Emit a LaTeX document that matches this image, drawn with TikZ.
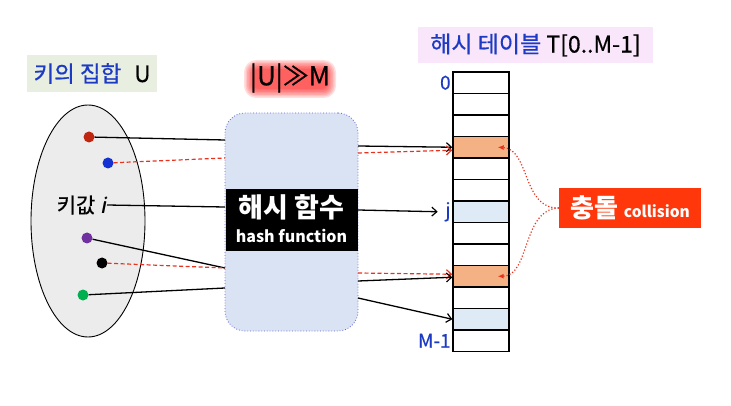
\documentclass[tikz,border=0pt]{standalone}
\usepackage{fontspec}
\setmainfont{Noto Sans CJK KR}
\newfontfamily\medfont{Noto Sans CJK KR}[FakeBold=0.6]
\newfontfamily\slfont{Noto Sans CJK KR}[FakeSlant=0.2,FakeBold=0.6]
\usetikzlibrary{arrows.meta,calc,shapes.geometric}
\definecolor{kblue}{RGB}{28,58,195}
\definecolor{keybg}{RGB}{232,238,224}
\definecolor{titlebg}{RGB}{249,230,250}
\definecolor{ellgray}{RGB}{236,236,236}
\definecolor{hashfill}{RGB}{218,227,243}
\definecolor{hashborder}{RGB}{100,100,210}
\definecolor{orangecell}{RGB}{244,177,131}
\definecolor{bluecell}{RGB}{222,234,246}
\definecolor{collred}{RGB}{255,55,10}
\definecolor{dashred}{RGB}{232,50,30}
\definecolor{dotred}{RGB}{192,38,15}
\definecolor{dotblue}{RGB}{20,50,210}
\definecolor{dotpurple}{RGB}{112,48,160}
\definecolor{dotgreen}{RGB}{0,176,80}
\tikzset{
  keydot/.style={circle,inner sep=0pt,minimum size=11pt},
  cellbox/.style={draw=black,line width=1.4pt,minimum width=56pt,minimum height=21.5pt,inner sep=0pt},
  idx/.style={text=kblue,font=\medfont\fontsize{19}{21}\selectfont,anchor=east,inner sep=1.5pt},
  conn/.style={draw=black,line width=1.3pt},
  redconn/.style={draw=dashred,line width=1.2pt,dash pattern=on 4pt off 2.5pt},
  tip/.style={-{Straight Barb[length=5pt,width=9pt,line width=1.2pt]}},
  redtip/.style={-{Straight Barb[length=5pt,width=9pt,line width=1.2pt,color=dashred]}},
  curvy/.style={draw=dashred,line width=1.2pt,dotted,-{Latex[length=6pt,width=5pt]}},
  glowbox/.style={fill=red,fill opacity=0.13,draw=none}
}
\begin{document}
\begin{tikzpicture}[x=1pt,y=-1pt]
\useasboundingbox (0,0) rectangle (731,406);

% key set label
\node[fill=keybg,text=kblue,font=\medfont\fontsize{22.5}{26}\selectfont,minimum width=130pt,minimum height=37pt,inner sep=0pt] (uset) at (92,73.5) {키의 집합\hspace{13pt}\textcolor{black}{U}};

% table title
\node[fill=titlebg,text=kblue,font=\medfont\fontsize{23}{26}\selectfont,minimum width=235pt,minimum height=36pt,inner sep=0pt] (ttitle) at (535.5,45) {해시 테이블 \textcolor{black}{T[0..M-1]}};

% |U|>>M with red glow
\foreach \k in {0,...,6}{
  \fill[glowbox,rounded corners={5pt+1.2*\k pt}] ({253-1.5*\k},{69-1.5*\k}) rectangle ({327+1.5*\k},{89+1.5*\k});
}
\node[font=\medfont\fontsize{26}{30}\selectfont,inner sep=0pt] (um) at (290,78) {|U|≫M};

% key universe
\node[ellipse,draw=black,line width=0.9pt,fill=ellgray,minimum width=114pt,minimum height=232pt] (keys) at (88,221) {};
\node[keydot,fill=dotred] (dr) at (89,137) {};
\node[keydot,fill=dotblue] (db) at (108,163) {};
\node[font=\medfont\fontsize{21}{24}\selectfont,inner sep=1pt,anchor=east] (ki) at (107,205) {키값 {\slfont i}};
\node[keydot,fill=dotpurple] (dp) at (87,238) {};
\node[keydot,fill=black] (dk) at (102,263) {};
\node[keydot,fill=dotgreen] (dg) at (83,295) {};

% hash function box
\node[draw=hashborder,dotted,line width=0.8pt,fill=hashfill,rounded corners=20pt,minimum width=133pt,minimum height=218pt,inner sep=0pt] (hash) at (291.5,222) {};
\node[fill=black,minimum width=132pt,minimum height=62pt,inner sep=0pt] (band) at (291.5,220) {};
\node[text=white,font=\fontsize{27}{30}\selectfont\bfseries,inner sep=0pt] (bandk) at (291.5,207) {해시 함수};
\node[text=white,font=\fontsize{16}{18}\selectfont\bfseries,inner sep=0pt] (bande) at (291.5,236) {hash function};

% hash box edge points
\coordinate (h1) at (225,140);
\coordinate (h2) at (225,158);
\coordinate (h3) at (225,207);
\coordinate (h4) at (225,268);
\coordinate (h5) at (225,288);
\coordinate (r1) at (358,146);
\coordinate (r1d) at (358,153);
\coordinate (r2) at (358,210);
\coordinate (r3d) at (358,273);
\coordinate (r3) at (358,281);
\coordinate (r4) at (358,298);

% hash table
\foreach \i/\c in {0/white,1/white,2/white,3/orangecell,4/white,5/white,6/bluecell,7/white,8/white,9/orangecell,10/white,11/bluecell,12/white}{
  \node[cellbox,fill=\c] (c\i) at (481,{82.75+21.5*\i}) {};
}
\node[idx] (l0) at (c0.west) {0};
\node[idx] (lj) at (c6.west) {j};
\node[idx] (lm) at (c12.west) {M-1};

% collision label
\node[fill=collred,text=white,minimum width=142pt,minimum height=40pt,inner sep=0pt] (coll) at (630,208)
  {{\fontsize{26}{28}\selectfont\bfseries 충돌}\hspace{6pt}{\fontsize{15.5}{18}\selectfont\bfseries collision}};

% left connectors
\draw[conn] (dr) -- (h1);
\draw[redconn] (db) -- (h2);
\draw[conn] (ki.east) -- (h3);
\draw[conn] (dp) -- (h4);
\draw[redconn] (dk) -- (h4);
\draw[conn] (dg) -- (h5);

% right connectors
\draw[conn,tip] (r1) -- (c3.west);
\draw[redconn,redtip] (r1d) -- ($(c3.west)+(0,3)$);
\draw[conn,tip] (r2) -- ($(lj.west)+(-6,0)$);
\draw[redconn,redtip] (r3d) -- ($(c9.west)+(0,-2)$);
\draw[conn,tip] (r3) -- ($(c9.west)+(0,1)$);
\draw[conn,tip] (r4) -- (c11.west);

% collision curves
\draw[curvy] (coll.west) .. controls (522,209) and (530,149) .. ($(c3.east)+(-12,0)$);
\draw[curvy] (coll.west) .. controls (522,209) and (530,276) .. ($(c9.east)+(-12,0)$);
\end{tikzpicture}
\end{document}
